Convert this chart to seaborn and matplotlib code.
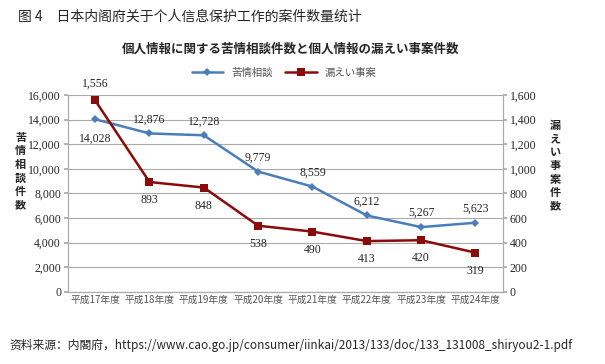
import matplotlib
matplotlib.use("Agg")
import matplotlib.pyplot as plt
import pandas as pd
import seaborn as sns

years = ["平成17年度", "平成18年度", "平成19年度", "平成20年度",
         "平成21年度", "平成22年度", "平成23年度", "平成24年度"]
consult = [14028, 12876, 12728, 9779, 8559, 6212, 5267, 5623]
leaks = [1556, 893, 848, 538, 490, 413, 420, 319]

BLUE = "#4a7ebb"
RED = "#8b0a0a"
JP = ["Noto Sans CJK JP", "DejaVu Sans"]
NUM = ["Liberation Serif", "DejaVu Serif"]

sns.set_theme(style="white")
plt.rcParams["font.family"] = JP

df = pd.DataFrame({"year": years, "consult": consult, "leaks": leaks})

fig = plt.figure(figsize=(6.05, 3.64), dpi=100)
ax = fig.add_axes([0.1124, 0.198, 0.7184, 0.541])
ax2 = ax.twinx()

sns.lineplot(data=df, x="year", y="consult", ax=ax, color=BLUE, marker="D",
             markersize=4.5, markeredgewidth=0, linewidth=1.8, sort=False,
             label="苦情相談", legend=False)
sns.lineplot(data=df, x="year", y="leaks", ax=ax2, color=RED, marker="s",
             markersize=6, markeredgewidth=0, linewidth=1.8, sort=False,
             label="漏えい事案", legend=False)

ax.set_xlim(-0.5, len(years) - 0.5)
ax.set_ylim(0, 16000)
ax2.set_ylim(0, 1600)
ax.set_yticks(range(0, 16001, 2000))
ax2.set_yticks(range(0, 1601, 200))
ax.set_yticklabels([f"{v:,}" for v in range(0, 16001, 2000)], family=NUM, fontsize=8.5)
ax2.set_yticklabels([f"{v:,}" for v in range(0, 1601, 200)], family=NUM, fontsize=8.5)
ax.set_xticks(range(len(years)))
ax.set_xticklabels(years, fontsize=7, color="#555555")
ax.set_xlabel("")
ax.set_ylabel("")
ax2.set_ylabel("")

ax.yaxis.grid(True, color="#aaaaaa", linewidth=0.8)
ax.set_axisbelow(True)
for a in (ax, ax2):
    a.spines["top"].set_visible(False)
    for s in ("left", "right", "bottom"):
        a.spines[s].set_color("#aaaaaa")
        a.spines[s].set_linewidth(0.8)
    a.tick_params(axis="both", length=3, color="#aaaaaa", direction="out", pad=2)
ax.tick_params(axis="x", bottom=True)
ax.tick_params(axis="y", left=True)
ax2.tick_params(axis="y", right=True)
# category boundary ticks
ax.set_xticks([i - 0.5 for i in range(len(years) + 1)], minor=True)
ax.tick_params(axis="x", which="minor", length=3, color="#aaaaaa")
ax.tick_params(axis="x", which="major", length=0)

# data labels
for i, v in enumerate(consult):
    dy = -14 if i == 0 else 10
    ax.annotate(f"{v:,}", (i, v), xytext=(0, dy), textcoords="offset points",
                ha="center", va="center", fontsize=8.5, family=NUM)
for i, v in enumerate(leaks):
    dy = 12 if i == 0 else -13
    ax2.annotate(f"{v:,}", (i, v), xytext=(0, dy), textcoords="offset points",
                 ha="center", va="center", fontsize=8.5, family=NUM)

# titles and axis names
fig.text(0.03, 0.955, "图 4　日本内阁府关于个人信息保护工作的案件数量统计",
         fontsize=10, family=["Noto Sans CJK SC", "DejaVu Sans"], va="center")
fig.text(0.48, 0.865, "個人情報に関する苦情相談件数と個人情報の漏えい事案件数",
         fontsize=9, fontweight="bold", ha="center", va="center")
fig.text(0.034, 0.53, "\n".join("苦情相談件数"), fontsize=8, fontweight="bold",
         ha="center", va="center", linespacing=1.05)
fig.text(0.918, 0.545, "\n".join("漏えい事案件数"), fontsize=8, fontweight="bold",
         ha="center", va="center", linespacing=1.05)
fig.text(0.015, 0.05, "资料来源：内閣府，https://www.cao.go.jp/consumer/iinkai/2013/133/doc/133_131008_shiryou2-1.pdf",
         fontsize=8.5, family=["Noto Sans CJK SC", "DejaVu Sans"], va="center")

h1, l1 = ax.get_legend_handles_labels()
h2, l2 = ax2.get_legend_handles_labels()
fig.legend(h1 + h2, l1 + l2, loc="center", bbox_to_anchor=(0.47, 0.8), ncol=2,
           frameon=False, fontsize=7.5, handlelength=3, columnspacing=1.2,
           labelcolor="#555555")

fig.savefig("out.png", dpi=100)
